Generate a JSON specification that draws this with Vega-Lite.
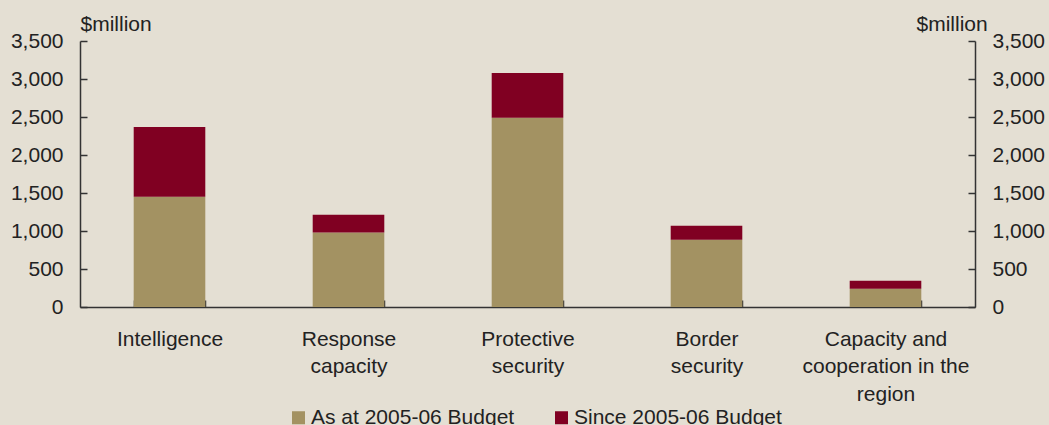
{
  "$schema": "https://vega.github.io/schema/vega-lite/v6.json",
  "autosize": {"type": "none"},
  "width": 895,
  "height": 266,
  "padding": {"left": 80, "top": 41, "right": 74, "bottom": 118},
  "background": "#e4dfd3",
  "config": {
    "view": {"stroke": null},
    "font": "Liberation Sans",
    "axis": {
      "domainColor": "#333333",
      "domainWidth": 1.5,
      "tickColor": "#333333",
      "tickWidth": 1.5,
      "labelColor": "#222222",
      "titleColor": "#222222",
      "labelFont": "Liberation Sans",
      "titleFont": "Liberation Sans",
      "labelFontSize": 21,
      "titleFontSize": 21,
      "titleFontWeight": "normal",
      "grid": false
    },
    "legend": {"labelFont": "Liberation Sans", "labelColor": "#222222"}
  },
  "data": {
    "values": [
      {"category": "Intelligence", "series": "As at 2005-06 Budget", "value": 1450},
      {"category": "Intelligence", "series": "Since 2005-06 Budget", "value": 920},
      {"category": "Response capacity", "series": "As at 2005-06 Budget", "value": 980},
      {"category": "Response capacity", "series": "Since 2005-06 Budget", "value": 235},
      {"category": "Protective security", "series": "As at 2005-06 Budget", "value": 2490},
      {"category": "Protective security", "series": "Since 2005-06 Budget", "value": 590},
      {"category": "Border security", "series": "As at 2005-06 Budget", "value": 885},
      {"category": "Border security", "series": "Since 2005-06 Budget", "value": 185},
      {"category": "Capacity and cooperation in the region", "series": "As at 2005-06 Budget", "value": 240},
      {"category": "Capacity and cooperation in the region", "series": "Since 2005-06 Budget", "value": 105}
    ]
  },
  "encoding": {
    "x": {
      "field": "category",
      "type": "nominal",
      "sort": null,
      "scale": {"paddingInner": 0.6, "paddingOuter": 0.3},
      "axis": {
        "title": null,
        "labelAngle": 0,
        "tickBand": "extent",
        "tickSize": -7,
        "labelPadding": 28,
        "labelBaseline": "top",
        "labelLineHeight": 27.5,
        "labelFontSize": 21,
        "labelLimit": 300,
        "labelExpr": "datum.value == 'Response capacity' ? ['Response', 'capacity'] : datum.value == 'Protective security' ? ['Protective', 'security'] : datum.value == 'Border security' ? ['Border', 'security'] : datum.value == 'Capacity and cooperation in the region' ? ['Capacity and', 'cooperation in the', 'region'] : datum.label"
      }
    },
    "order": {"field": "series", "sort": "ascending"}
  },
  "layer": [
    {
      "mark": {"type": "bar"},
      "encoding": {
        "y": {
          "field": "value",
          "type": "quantitative",
          "stack": "zero",
          "scale": {"domain": [0, 3500], "nice": false},
          "axis": {
            "orient": "left",
            "values": [0, 500, 1000, 1500, 2000, 2500, 3000, 3500],
            "format": ",d",
            "tickSize": -7,
            "labelPadding": 24,
            "title": "$million",
            "titleAngle": 0,
            "titleAlign": "left",
            "titleBaseline": "alphabetic",
            "titleX": 0,
            "titleY": -11
          }
        },
        "color": {
          "field": "series",
          "type": "nominal",
          "scale": {
            "domain": ["As at 2005-06 Budget", "Since 2005-06 Budget"],
            "range": ["#a39262", "#800022"]
          },
          "legend": {
            "title": null,
            "orient": "none",
            "legendX": 208,
            "legendY": 366,
            "direction": "horizontal",
            "symbolType": "square",
            "symbolSize": 169,
            "symbolStrokeWidth": 0,
            "labelFontSize": 21,
            "labelLimit": 400,
            "labelOffset": 2,
            "columnPadding": 36
          }
        }
      }
    },
    {
      "mark": {"type": "bar", "opacity": 0},
      "encoding": {
        "y": {
          "field": "value",
          "type": "quantitative",
          "stack": "zero",
          "scale": {"domain": [0, 3500], "nice": false},
          "axis": {
            "orient": "right",
            "values": [0, 500, 1000, 1500, 2000, 2500, 3000, 3500],
            "format": ",d",
            "tickSize": -7,
            "labelPadding": 24,
            "title": "$million",
            "titleAngle": 0,
            "titleAlign": "left",
            "titleBaseline": "alphabetic",
            "titleX": -59,
            "titleY": -11
          }
        }
      }
    }
  ],
  "resolve": {"axis": {"y": "independent"}}
}
